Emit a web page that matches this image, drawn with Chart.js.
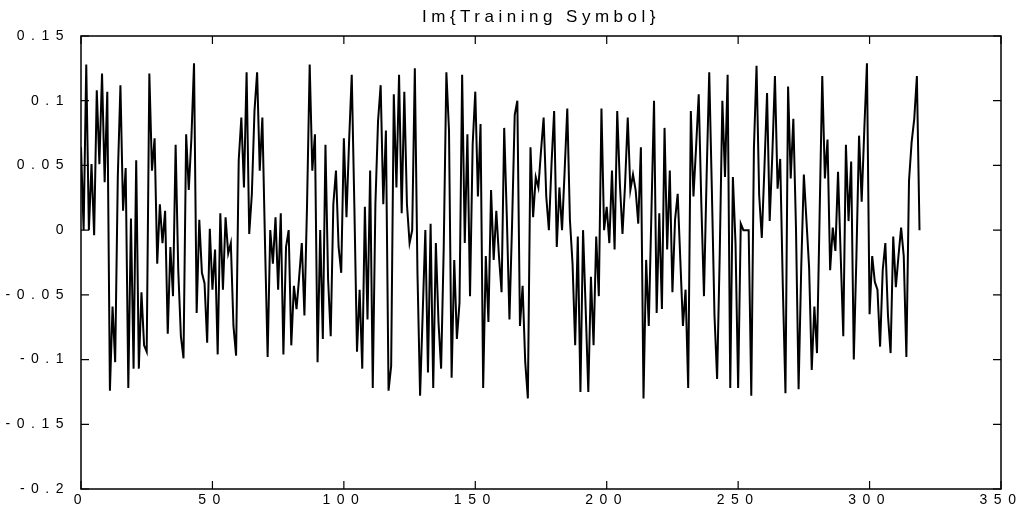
<!DOCTYPE html>
<html>
<head>
<meta charset="utf-8">
<script src="https://cdn.jsdelivr.net/npm/chart.js@4/dist/chart.umd.min.js"></script>
<style>
html,body{margin:0;padding:0;background:#fff;}
#wrap{width:1029px;height:521px;position:relative;}
</style>
</head>
<body>
<div id="wrap"><canvas id="c" width="1029" height="521"></canvas></div>
<script>
// ---- chart text ----
const chartTitle = 'Im{Training Symbol}';

// ---- axis ticks ----
const xTickValues = [0, 50, 100, 150, 200, 250, 300, 350];
const yTickValues = [-0.2, -0.15, -0.1, -0.05, 0, 0.05, 0.1, 0.15];
const yTickLabels = ['-0.2', '-0.15', '-0.1', '-0.05', '0', '0.05', '0.1', '0.15'];

// ---- series values (imaginary part) ----
const imagSamples0to63 = [0.064,0.0,0.128,0.0,0.051,-0.004,0.108,0.051,0.121,0.037,0.107,-0.124,-0.059,-0.102,0.041,0.112,0.015,0.048,-0.122,0.009,-0.107,0.054,-0.107,-0.048,-0.089,-0.094,0.121,0.046,0.071,-0.026,0.02,-0.01,0.015,-0.08,-0.013,-0.051,0.066,-0.031,-0.082,-0.099,0.074,0.031,0.071,0.129,-0.064,0.008,-0.033,-0.041,-0.087,0.001,-0.046,-0.015,-0.096,0.013,-0.046,0.01,-0.018,-0.01,-0.074,-0.097,0.054,0.087,0.033,0.122];
const imagSamples64to127 = [-0.003,0.028,0.092,0.122,0.046,0.087,-0.01,-0.098,0.0,-0.026,0.01,-0.046,0.013,-0.096,-0.013,0.0,-0.089,-0.043,-0.061,-0.036,-0.01,-0.066,0.02,0.128,0.046,0.074,-0.102,0.0,-0.084,0.066,-0.038,-0.082,0.02,0.046,-0.013,-0.033,0.071,0.01,0.069,0.12,0.018,-0.094,-0.046,-0.107,0.018,-0.069,0.046,-0.122,0.02,0.084,0.112,0.02,0.077,-0.124,-0.105,0.105,0.033,0.12,0.013,0.107,0.02,-0.01,0.0,0.125];
const imagSamples128to191 = [-0.033,-0.128,-0.064,0.0,-0.11,0.005,-0.122,-0.01,-0.071,-0.107,-0.013,0.122,0.077,-0.114,-0.023,-0.084,-0.056,0.12,-0.01,0.074,-0.051,0.066,0.107,0.026,0.082,-0.122,-0.02,-0.071,0.031,-0.023,0.015,-0.02,-0.048,0.079,0.01,-0.069,0.005,0.089,0.1,-0.074,-0.043,-0.102,-0.13,0.064,0.01,0.041,0.033,0.061,0.087,0.026,0.0,0.051,0.092,-0.013,0.033,0.0,0.046,0.094,0.008,-0.026,-0.089,-0.005,-0.125,0.0];
const imagSamples192to255 = [-0.061,-0.125,-0.036,-0.089,-0.005,-0.051,0.094,0.0,0.018,-0.01,0.046,-0.015,0.092,0.036,-0.003,0.036,0.087,0.031,0.043,0.031,0.005,0.064,-0.13,-0.023,-0.074,0.013,0.1,-0.064,0.013,-0.061,0.079,-0.015,0.046,-0.048,0.008,0.028,-0.023,-0.074,-0.046,-0.122,0.092,0.026,0.064,0.105,0.02,-0.051,0.041,0.122,0.031,-0.066,-0.115,-0.018,0.1,0.041,0.12,-0.122,0.041,-0.01,-0.122,0.005,0.0,0.0,0.0,-0.128];
const imagSamples256to319 = [0.063,0.127,0.027,-0.006,0.048,0.106,0.007,0.058,0.119,0.032,0.055,-0.044,-0.126,0.111,0.04,0.086,0.002,-0.123,-0.029,0.043,0.007,-0.029,-0.108,-0.059,-0.095,0.012,0.119,0.04,0.07,-0.031,0.002,-0.016,0.045,-0.019,-0.082,0.066,0.007,0.053,-0.1,-0.02,0.073,0.022,0.078,0.129,-0.065,-0.02,-0.04,-0.046,-0.09,-0.031,-0.01,-0.066,-0.095,-0.005,-0.044,-0.02,0.002,-0.02,-0.098,0.038,0.068,0.086,0.119,0.0];

const imagValues = [].concat(imagSamples0to63, imagSamples64to127, imagSamples128to191, imagSamples192to255, imagSamples256to319);
const points = imagValues.map((v, i) => ({ x: i, y: v }));

const FONT = "'Liberation Sans', Arial, sans-serif";
const TICK_SPACING = '6.5px';
const TITLE_SPACING = '4.5px';

// letter spacing for the wide scanned-looking text
const spacingPlugin = {
  id: 'spacing',
  afterInit(chart) {
    const tb = chart.titleBlock;
    if (tb && !tb._wrapped) {
      const orig = tb.draw;
      tb.draw = function () {
        const ctx = chart.ctx;
        const prev = ctx.letterSpacing;
        ctx.letterSpacing = TITLE_SPACING;
        orig.apply(this, arguments);
        ctx.letterSpacing = prev;
      };
      tb._wrapped = true;
    }
  },
  beforeDraw(chart) { chart.ctx.letterSpacing = TICK_SPACING; }
};

// MATLAB-style box with inward tick marks on all four sides
const framePlugin = {
  id: 'frame',
  afterDraw(chart) {
    const { ctx, chartArea: a, scales: { x, y } } = chart;
    ctx.save();
    ctx.strokeStyle = '#000';
    ctx.lineWidth = 1.5;
    ctx.strokeRect(a.left, a.top, a.right - a.left, a.bottom - a.top);
    ctx.lineWidth = 1.2;
    const L = 8;
    ctx.beginPath();
    x.ticks.forEach(t => {
      const p = x.getPixelForValue(t.value);
      ctx.moveTo(p, a.bottom); ctx.lineTo(p, a.bottom - L);
      ctx.moveTo(p, a.top); ctx.lineTo(p, a.top + L);
    });
    y.ticks.forEach(t => {
      const p = y.getPixelForValue(t.value);
      ctx.moveTo(a.left, p); ctx.lineTo(a.left + L, p);
      ctx.moveTo(a.right, p); ctx.lineTo(a.right - L, p);
    });
    ctx.stroke();
    ctx.restore();
  }
};

new Chart(document.getElementById('c'), {
  type: 'line',
  data: {
    datasets: [{
      data: points,
      borderColor: '#000',
      borderWidth: 2,
      pointRadius: 0,
      tension: 0,
      fill: false
    }]
  },
  options: {
    responsive: false,
    animation: false,
    devicePixelRatio: 1,
    layout: { padding: { left: 0, right: 28, top: 0, bottom: 0 } },
    plugins: {
      legend: { display: false },
      tooltip: { enabled: false },
      title: {
        display: true,
        text: chartTitle,
        fullSize: false,
        color: '#000',
        font: { family: FONT, size: 17, weight: 'normal', lineHeight: 1.2 },
        padding: { top: 7.3, bottom: 8.3 }
      }
    },
    scales: {
      x: {
        type: 'linear',
        min: 0, max: 350,
        afterBuildTicks(scale) { scale.ticks = xTickValues.map(v => ({ value: v })); },
        afterFit(scale) { scale.height = 32; },
        grid: { display: false, drawTicks: false },
        border: { display: false },
        ticks: {
          autoSkip: false, maxRotation: 0, padding: 3,
          color: '#000',
          font: { family: FONT, size: 14 },
          callback: v => String(v)
        }
      },
      y: {
        type: 'linear',
        min: -0.2, max: 0.15,
        afterBuildTicks(scale) { scale.ticks = yTickValues.map(v => ({ value: v })); },
        afterFit(scale) { scale.width = 81; },
        grid: { display: false, drawTicks: false },
        border: { display: false },
        ticks: {
          autoSkip: false, padding: 11,
          color: '#000',
          font: { family: FONT, size: 14 },
          callback: (v) => {
            const i = yTickValues.findIndex(t => Math.abs(t - v) < 1e-9);
            return i >= 0 ? yTickLabels[i] : '';
          }
        }
      }
    }
  },
  plugins: [spacingPlugin, framePlugin]
});
</script>
</body>
</html>
